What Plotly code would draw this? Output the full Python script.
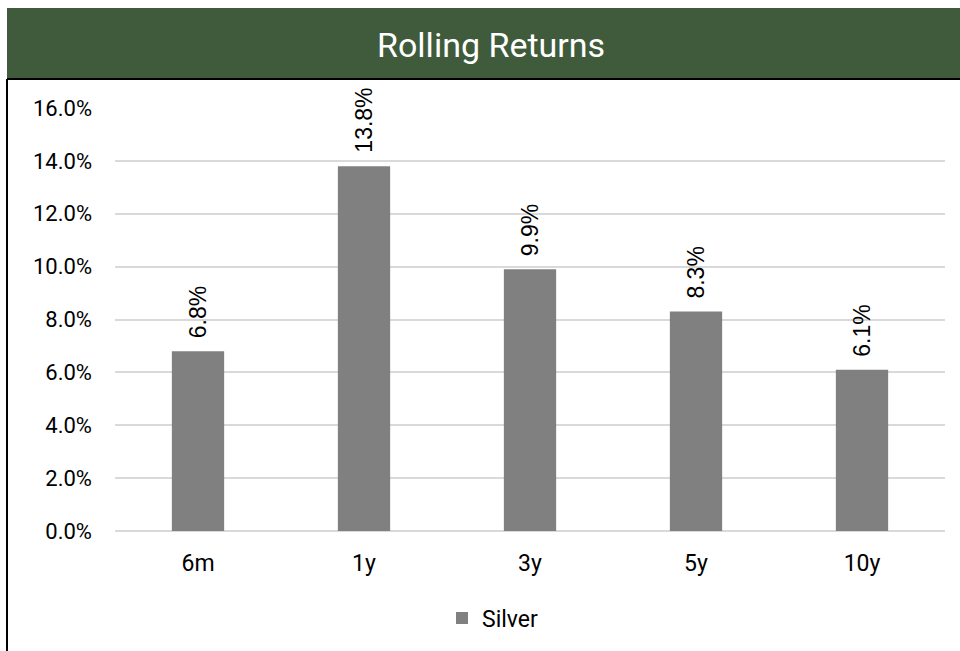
import plotly.graph_objects as go

periods = ["6m", "1y", "3y", "5y", "10y"]
silver_returns = [6.8, 13.8, 9.9, 8.3, 6.1]
y_ticks = [0, 2, 4, 6, 8, 10, 12, 14, 16]

W, H = 960, 651
ML, MR, MT, MB = 115, 15, 108, 120
PW, PH = W - ML - MR, H - MT - MB


def px_x(x):
    return (x - ML) / PW


def px_y(y):
    return (H - MB - y) / PH


fig = go.Figure()
fig.add_trace(go.Bar(
    x=periods,
    y=silver_returns,
    name="Silver",
    marker=dict(color="#808080", line=dict(width=0)),
    width=0.315,
))

# rotated value labels sitting just above each bar
value_labels = [
    dict(x=p, y=v, xref="x", yref="y", text=f"{v:.1f}%",
         textangle=-90, showarrow=False,
         xanchor="center", yanchor="bottom", yshift=11,
         font=dict(family="Liberation Sans, Arial", size=23, color="#000000"))
    for p, v in zip(periods, silver_returns)
]

shapes = [
    # title banner
    dict(type="rect", xref="paper", yref="paper",
         x0=px_x(7), x1=px_x(962), y0=px_y(78), y1=px_y(8),
         fillcolor="#3f5b3c", line=dict(width=0), layer="below"),
    # frame lines under the banner and on the left
    dict(type="line", xref="paper", yref="paper",
         x0=px_x(7), x1=px_x(962), y0=px_y(79), y1=px_y(79),
         line=dict(color="#000000", width=2)),
    dict(type="line", xref="paper", yref="paper",
         x0=px_x(7), x1=px_x(7), y0=px_y(79), y1=px_y(655),
         line=dict(color="#000000", width=2)),
]

fig.update_layout(
    width=W, height=H,
    margin=dict(l=ML, r=MR, t=MT, b=MB),
    paper_bgcolor="#ffffff",
    plot_bgcolor="#ffffff",
    shapes=shapes,
    annotations=[dict(
        text="Rolling Returns", xref="paper", yref="paper",
        x=px_x(491), y=px_y(45), xanchor="center", yanchor="middle",
        showarrow=False,
        font=dict(family="Roboto", size=34, color="#ffffff"),
    )] + value_labels,
    showlegend=True,
    legend=dict(
        orientation="h", xref="paper", yref="paper",
        x=px_x(442), y=px_y(618), xanchor="left", yanchor="middle",
        font=dict(family="Roboto", size=23, color="#000000"),
        itemwidth=30,
    ),
    font=dict(family="Roboto", size=23, color="#000000"),
)

fig.update_xaxes(
    showgrid=False, showline=False, ticks="",
    tickfont=dict(family="Roboto", size=23, color="#000000"),
    ticklabelstandoff=16,
)
fig.update_yaxes(
    range=[0, 16],
    tickvals=y_ticks,
    ticktext=[f"{v:.1f}%" for v in y_ticks],
    showgrid=True, gridcolor="#d9d9d9", gridwidth=1.5,
    zeroline=True, zerolinecolor="#d9d9d9", zerolinewidth=1.5,
    showline=False, ticks="",
    tickfont=dict(family="Roboto", size=22, color="#000000"),
    ticklabelstandoff=22,
)

fig.write_html("out.html")
